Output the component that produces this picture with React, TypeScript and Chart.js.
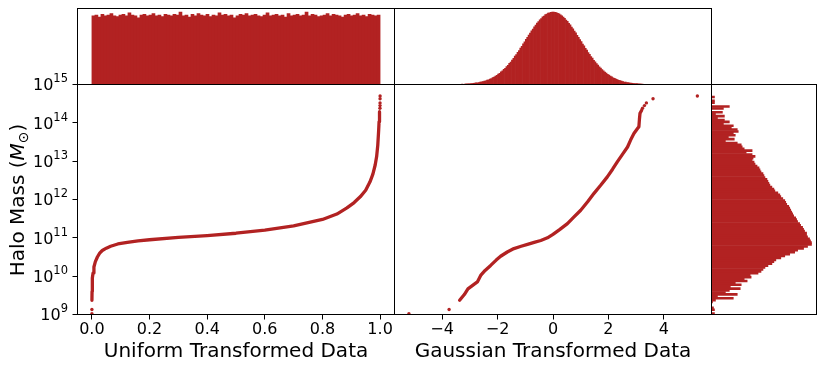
import React, { useEffect, useRef } from 'react';
import { Chart, registerables } from 'chart.js';

Chart.register(...registerables);

const RED = '#b22222';
const FONT = "'DejaVu Sans', 'Liberation Sans', sans-serif";

// ---------------- data ----------------
// top-left: histogram of the uniform-transformed data (bins on [0, 1])
const UNI_HIST_MIN = 0;
const UNI_HIST_MAX = 1;
const uniformHistCounts = [
  95, 96, 93, 97, 95, 96, 98, 95, 94, 96, 97, 95,
  99, 96, 95, 92, 96, 97, 95, 96, 98, 95, 96, 94,
  97, 96, 95, 97, 96, 100, 95, 96, 93, 97, 95, 98,
  96, 95, 97, 94, 96, 95, 99, 96, 97, 95, 96, 92,
  95, 97, 96, 98, 95, 96, 97, 95, 94, 96, 99, 95,
  96, 97, 95, 96, 93, 98, 95, 96, 97, 95, 96, 100,
  95, 97, 96, 94, 95, 96, 98, 95, 97, 96, 95, 93,
  96, 97, 95, 96, 98, 95, 96, 94, 97, 96, 95, 96,
];

// top-middle: histogram of the gaussian-transformed data (bins of 0.05 from -3.3)
const GAUSS_HIST_MIN = -3.3;
const GAUSS_HIST_BIN = 0.05;
const gaussHistCounts = [
  5, 4, 7, 8, 10, 10, 12, 13, 16, 18, 22, 24, 27, 33, 36, 40, 48, 52, 61, 66,
  76, 83, 95, 104, 117, 128, 143, 155, 174, 188, 209, 224, 248, 265, 291, 311, 339, 360, 391, 414,
  446, 470, 503, 529, 563, 589, 624, 650, 684, 710, 743, 767, 798, 821, 850, 869, 895, 912, 934, 947,
  965, 973, 987, 990, 998, 999,
  1000, 996, 993, 983, 976, 961, 950, 930, 915, 891, 873, 846, 824, 794, 770, 739, 713, 680, 653, 620,
  593, 559, 533, 499, 474, 442, 417, 387, 364, 335, 314, 288, 268, 244, 227, 205, 190, 171, 158, 141,
  130, 115, 106, 92, 85, 74, 68, 58, 54, 46, 42, 35, 33, 27, 25, 20, 19, 15, 14, 11,
  11, 8, 8, 6, 6, 4,
];

// right: histogram of log10(halo mass) (bins of 0.05 dex from 9.0)
const MASS_HIST_MIN = 9.0;
const MASS_HIST_BIN = 0.05;
const massHistCounts = [
  3, 0, 3, 2, 0, 0, 1, 4, 22, 6, 26, 14, 18, 29, 19, 30, 24, 36, 33, 40,
  39, 47, 50, 52, 54, 57, 61, 63, 65, 70, 74, 79, 84, 87, 93, 97, 101, 101, 100, 99,
  97, 96, 96, 94, 93, 92, 90, 89, 87, 86, 85, 83, 82, 81, 80, 79, 78, 76, 75, 74,
  72, 70, 69, 67, 64, 63, 61, 59, 58, 57, 56, 54, 53, 52, 50, 49, 48, 46, 44, 43,
  41, 42, 44, 41, 35, 41, 33, 31, 30, 26, 14, 23, 17, 24, 22, 27, 26, 20, 22, 12,
  18, 13, 6, 13, 4, 11, 0, 12, 18, 0, 3, 3, 0, 3,
];

// bottom-left: halo mass vs uniform transformed value (dense curve + isolated points)
const uniformLineX = [
  0.0001, 0.0005, 0.001, 0.002, 0.004, 0.007, 0.012, 0.019, 0.027, 0.036,
  0.05, 0.065, 0.09, 0.123, 0.16, 0.2, 0.3, 0.4, 0.5, 0.6,
  0.7, 0.8, 0.85, 0.885, 0.91, 0.931, 0.95, 0.965, 0.975, 0.983,
  0.988, 0.992, 0.995, 0.9965, 0.998,
];
const uniformLineLogM = [
  9.37, 9.6, 9.8, 9.95, 10.08, 10.24, 10.38, 10.5, 10.6, 10.67,
  10.73, 10.78, 10.84, 10.88, 10.92, 10.95, 11.01, 11.06, 11.12, 11.2,
  11.31, 11.48, 11.62, 11.78, 11.92, 12.07, 12.24, 12.46, 12.66, 12.9,
  13.12, 13.42, 13.8, 14.03, 14.29,
];
const uniformDotX = [0, 0, 0.9995, 0.9997, 0.9998, 0.9999, 1.0];
const uniformDotLogM = [9.02, 9.13, 14.38, 14.45, 14.52, 14.63, 14.7];

// bottom-middle: halo mass vs gaussian transformed value
const gaussLineX = [
  -3.37, -3.2, -3.07, -2.9, -2.73, -2.61, -2.45, -2.25, -2.05, -1.89,
  -1.65, -1.41, -1.15, -0.92, -0.68, -0.44, -0.2, 0, 0.25, 0.52,
  0.75, 1.0, 1.25, 1.48, 1.72, 1.96, 2.15, 2.32, 2.5, 2.69,
  2.8, 2.92, 3.05, 3.1, 3.12, 3.14, 3.2,
];
const gaussLineLogM = [
  9.37, 9.52, 9.67, 9.76, 9.85, 10.02, 10.15, 10.28, 10.42, 10.52,
  10.63, 10.72, 10.78, 10.83, 10.88, 10.93, 11.0, 11.09, 11.22, 11.37,
  11.54, 11.72, 11.94, 12.16, 12.37, 12.59, 12.79, 12.98, 13.17, 13.37,
  13.55, 13.72, 13.85, 13.9, 14.1, 14.25, 14.33,
];
const gaussDotX = [-5.2, -3.75, 3.23, 3.3, 3.37, 3.61, 5.21];
const gaussDotLogM = [9.02, 9.13, 14.38, 14.45, 14.52, 14.63, 14.7];

// axes
const uniformTicks = [0, 0.2, 0.4, 0.6, 0.8, 1.0];
const gaussTicks = [-4, -2, 0, 2, 4];
const massTickExps = [9, 10, 11, 12, 13, 14, 15];
const UNI_XMIN = -0.05;
const UNI_XMAX = 1.05;
const GAUSS_XMIN = -5.72;
const GAUSS_XMAX = 5.72;
const LOGM_MIN = 9;
const LOGM_MAX = 15;

const X_TITLE_UNI = 'Uniform Transformed Data';
const X_TITLE_GAUSS = 'Gaussian Transformed Data';

// ---------------- helpers ----------------
const toPoints = (xs: number[], logs: number[]) => xs.map((x, i) => ({ x, y: Math.pow(10, logs[i]) }));

const framePlugin = {
  id: 'frame',
  afterDraw(chart: any) {
    const { ctx, chartArea: a } = chart;
    ctx.save();
    ctx.strokeStyle = '#000';
    ctx.lineWidth = 1;
    ctx.strokeRect(a.left, a.top, a.right - a.left, a.bottom - a.top);
    ctx.restore();
  },
};

// "10" with a raised exponent, placed at each tick of the log mass axis
const massTickLabelPlugin = {
  id: 'massTickLabels',
  afterDraw(chart: any) {
    const s = chart.scales.y;
    const ctx = chart.ctx;
    const base = 16;
    const small = 11.5;
    ctx.save();
    ctx.fillStyle = '#000';
    ctx.textBaseline = 'alphabetic';
    ctx.textAlign = 'left';
    const right = s.right - 5 - 4.5;
    s.ticks.forEach((t: any) => {
      const y = s.getPixelForValue(t.value);
      const exp = String(Math.round(Math.log10(t.value)));
      ctx.font = `${base}px ${FONT}`;
      const wb = ctx.measureText('10').width;
      ctx.font = `${small}px ${FONT}`;
      const we = ctx.measureText(exp).width;
      const x0 = right - wb - we;
      const baseline = y + 5.8;
      ctx.font = `${base}px ${FONT}`;
      ctx.fillText('10', x0, baseline);
      ctx.font = `${small}px ${FONT}`;
      ctx.fillText(exp, x0 + wb, baseline - 8);
    });
    ctx.restore();
  },
};

const yTitlePlugin = {
  id: 'ytitle',
  afterDraw(chart: any) {
    const ctx = chart.ctx;
    const size = 20;
    const parts = [
      { t: 'Halo Mass (', f: `${size}px ${FONT}`, dy: 0 },
      { t: 'M', f: `italic ${size}px ${FONT}`, dy: 0 },
      { t: '\u2299', f: `${Math.round(size * 0.7)}px ${FONT}`, dy: size * 0.22 },
      { t: ')', f: `${size}px ${FONT}`, dy: 0 },
    ];
    ctx.save();
    ctx.translate(24, 200);
    ctx.rotate(-Math.PI / 2);
    ctx.textBaseline = 'alphabetic';
    ctx.textAlign = 'left';
    ctx.fillStyle = '#000';
    let total = 0;
    const widths = parts.map((p) => {
      ctx.font = p.f;
      const w = ctx.measureText(p.t).width;
      total += w;
      return w;
    });
    let x = -total / 2;
    parts.forEach((p, i) => {
      ctx.font = p.f;
      ctx.fillText(p.t, x, p.dy);
      x += widths[i];
    });
    ctx.restore();
  },
};

const tickGrid = {
  display: true,
  drawOnChartArea: false,
  drawTicks: true,
  tickLength: 5,
  color: '#000',
  lineWidth: 1,
};

const tickFont = { size: 16, family: FONT };
const titleFont = { size: 20, family: FONT };

function baseOptions(padding: any) {
  return {
    responsive: false,
    animation: false,
    events: [],
    layout: { padding },
    plugins: { legend: { display: false }, tooltip: { enabled: false } },
  };
}

// chart-area edges (px)
const L = 77.5;
const M = 394.5;
const R1 = 711.5;
const R2 = 816.5;
const T = 8.5;
const MID = 84.5;
const B = 314.5;
const CW = 830;
const CH = 370;

function makeConfigs(): any[] {
  const uniHistData = uniformHistCounts.map((c, i) => ({
    x: UNI_HIST_MIN + ((i + 0.5) * (UNI_HIST_MAX - UNI_HIST_MIN)) / uniformHistCounts.length,
    y: c,
  }));
  const gaussHistData = gaussHistCounts.map((c, i) => ({ x: GAUSS_HIST_MIN + (i + 0.5) * GAUSS_HIST_BIN, y: c }));
  const massHistData = massHistCounts.map((c, i) => ({ y: MASS_HIST_MIN + (i + 0.5) * MASS_HIST_BIN, x: c }));

  const histDataset = (data: any[]) => ({
    data,
    backgroundColor: RED,
    borderWidth: 0,
    barPercentage: 1,
    categoryPercentage: 1,
  });

  const lineDataset = (xs: number[], logs: number[]) => ({
    data: toPoints(xs, logs),
    showLine: true,
    borderColor: RED,
    borderWidth: 3.3,
    borderCapStyle: 'round',
    borderJoinStyle: 'round',
    pointRadius: 0,
    tension: 0,
  });
  const dotDataset = (xs: number[], logs: number[]) => ({
    data: toPoints(xs, logs),
    showLine: false,
    pointRadius: 1.7,
    pointBackgroundColor: RED,
    pointBorderWidth: 0,
    backgroundColor: RED,
    borderColor: RED,
  });

  const massAxis = (display: boolean) => {
    const axis: any = {
      type: 'logarithmic',
      min: Math.pow(10, LOGM_MIN),
      max: Math.pow(10, LOGM_MAX),
      display,
      afterBuildTicks: (s: any) => {
        s.ticks = massTickExps.map((e) => ({ value: Math.pow(10, e) }));
      },
      grid: tickGrid,
      border: { display: false },
      ticks: { display: false },
    };
    if (display) {
      axis.afterFit = (s: any) => {
        s.width = L;
      };
    }
    return axis;
  };

  const xAxis = (min: number, max: number, ticks: number[], fmt: (v: number) => string, title: string) => ({
    type: 'linear',
    min,
    max,
    afterBuildTicks: (s: any) => {
      s.ticks = ticks.map((v) => ({ value: v }));
    },
    afterFit: (s: any) => {
      s.height = CH - B;
    },
    grid: tickGrid,
    border: { display: false },
    ticks: { autoSkip: false, maxRotation: 0, font: tickFont, color: '#000', padding: 1, callback: (v: any) => fmt(Number(v)) },
    title: { display: true, text: title, font: titleFont, color: '#000', padding: { top: 0, bottom: 6 } },
  });

  const fmtUni = (v: number) => v.toFixed(1);
  const fmtGauss = (v: number) => (v < 0 ? '\u2212' + Math.abs(v) : String(v));

  return [
    // top-left histogram
    {
      type: 'bar',
      data: { datasets: [histDataset(uniHistData)] },
      options: {
        ...baseOptions({ left: L, right: CW - M, top: T, bottom: CH - MID }),
        scales: {
          x: { type: 'linear', min: UNI_XMIN, max: UNI_XMAX, offset: false, display: false, grid: { offset: false } },
          y: { type: 'linear', min: 0, max: Math.max(...uniformHistCounts) * 1.05, display: false },
        },
      },
      plugins: [framePlugin],
    },
    // top-middle histogram
    {
      type: 'bar',
      data: { datasets: [histDataset(gaussHistData)] },
      options: {
        ...baseOptions({ left: M, right: CW - R1, top: T, bottom: CH - MID }),
        scales: {
          x: { type: 'linear', min: GAUSS_XMIN, max: GAUSS_XMAX, offset: false, display: false, grid: { offset: false } },
          y: { type: 'linear', min: 0, max: Math.max(...gaussHistCounts) * 1.05, display: false },
        },
      },
      plugins: [framePlugin],
    },
    // bottom-left scatter
    {
      type: 'scatter',
      data: { datasets: [lineDataset(uniformLineX, uniformLineLogM), dotDataset(uniformDotX, uniformDotLogM)] },
      options: {
        ...baseOptions({ left: 0, right: CW - M, top: MID, bottom: 0 }),
        scales: {
          x: xAxis(UNI_XMIN, UNI_XMAX, uniformTicks, fmtUni, X_TITLE_UNI),
          y: massAxis(true),
        },
      },
      plugins: [framePlugin, massTickLabelPlugin, yTitlePlugin],
    },
    // bottom-middle scatter
    {
      type: 'scatter',
      data: { datasets: [lineDataset(gaussLineX, gaussLineLogM), dotDataset(gaussDotX, gaussDotLogM)] },
      options: {
        ...baseOptions({ left: M, right: CW - R1, top: MID, bottom: 0 }),
        scales: {
          x: xAxis(GAUSS_XMIN, GAUSS_XMAX, gaussTicks, fmtGauss, X_TITLE_GAUSS),
          y: massAxis(false),
        },
      },
      plugins: [framePlugin],
    },
    // right horizontal histogram
    {
      type: 'bar',
      data: { datasets: [histDataset(massHistData)] },
      options: {
        ...baseOptions({ left: R1, right: CW - R2, top: MID, bottom: CH - B }),
        indexAxis: 'y',
        scales: {
          y: { type: 'linear', min: LOGM_MIN, max: LOGM_MAX, offset: false, display: false, grid: { offset: false } },
          x: { type: 'linear', min: 0, max: Math.max(...massHistCounts) * 1.05, display: false },
        },
      },
      plugins: [framePlugin],
    },
  ];
}

export default function App() {
  const canvases = useRef<(HTMLCanvasElement | null)[]>([]);

  useEffect(() => {
    Chart.defaults.font.family = FONT;
    const configs = makeConfigs();
    const charts = configs.map((cfg, i) => new Chart(canvases.current[i] as HTMLCanvasElement, cfg));
    return () => charts.forEach((c) => c.destroy());
  }, []);

  return (
    <div style={{ position: 'absolute', left: 0, top: 0, width: CW, height: CH, background: '#fff' }}>
      {[0, 1, 2, 3, 4].map((i) => (
        <canvas
          key={i}
          ref={(el) => {
            canvases.current[i] = el;
          }}
          width={CW}
          height={CH}
          style={{ position: 'absolute', left: 0, top: 0 }}
        />
      ))}
    </div>
  );
}
